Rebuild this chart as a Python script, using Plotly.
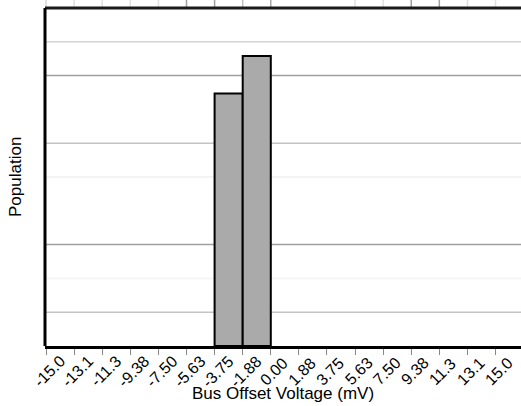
import plotly.graph_objects as go

# Data
bin_edges = [-15.0, -13.125, -11.25, -9.375, -7.5, -5.625, -3.75, -1.875, 0.0,
             1.875, 3.75, 5.625, 7.5, 9.375, 11.25, 13.125, 15.0]
tick_labels = ["-15.0", "-13.1", "-11.3", "-9.38", "-7.50", "-5.63", "-3.75", "-1.88", "0.00",
               "1.88", "3.75", "5.63", "7.50", "9.38", "11.3", "13.1", "15.0"]
bar_left = [-3.75, -1.875]
bar_counts = [7.47, 8.58]
bin_width = 1.875

grid_levels = [1, 2, 3, 5, 6, 8, 9]
grid_colors = ["#c4c4c4", "#f3f3f3", "#a0a0a0", "#f1f1f1", "#c4c4c4", "#a0a0a0", "#d4d4d4"]

top_line_colors = ["#d8d8d8", "#e0e0e0", "#e0e0e0", "#e0e0e0", "#e0e0e0", "#a0a0a0", "#a0a0a0",
                   "#c0c0c0", "#a8a8a8", None, None, "#e0e0e0", "#e0e0e0", "#a0a0a0", "#a0a0a0",
                   "#e0e0e0", "#e0e0e0"]

x_range = [-15.07, 16.7]
y_top = 10.0          # frame top (value units)
y_range = [0, 10.237]  # extends a little above the frame

fig = go.Figure()
fig.add_trace(go.Bar(
    x=[b + bin_width / 2 for b in bar_left],
    y=bar_counts,
    width=bin_width,
    marker=dict(color="#aaaaaa", line=dict(color="black", width=2)),
    showlegend=False,
))

shapes = []
for lvl, col in zip(grid_levels, grid_colors):
    shapes.append(dict(type="line", xref="paper", x0=0, x1=1, yref="y", y0=lvl, y1=lvl,
                       line=dict(color=col, width=1.5), layer="below"))
for xv, col in zip(bin_edges, top_line_colors):
    if col is None:
        continue
    shapes.append(dict(type="line", xref="x", x0=xv, x1=xv, yref="y", y0=y_top, y1=y_range[1],
                       line=dict(color=col, width=1.5)))
# frame: top and left
shapes.append(dict(type="line", xref="paper", x0=0, x1=1, yref="y", y0=y_top, y1=y_top,
                   line=dict(color="#1a1a1a", width=3)))
shapes.append(dict(type="line", xref="paper", x0=0, x1=0, yref="y", y0=0, y1=y_top,
                   line=dict(color="black", width=3)))

annotations = [
    dict(text="Bus Offset Voltage (mV)", xref="paper", yref="paper",
         x=0.5, y=0, yshift=-47, showarrow=False,
         font=dict(size=17), xanchor="center", yanchor="middle"),
    dict(text="Population", xref="paper", yref="paper", textangle=-90,
         x=0, y=0.5, xshift=-30, yshift=-4, showarrow=False,
         font=dict(size=17), xanchor="center", yanchor="middle"),
]
for xv, lab in zip(bin_edges, tick_labels):
    annotations.append(dict(text=lab, xref="x", yref="paper", x=xv, y=0,
                            xshift=3, yshift=-25, textangle=-45, showarrow=False,
                            font=dict(size=16), xanchor="center", yanchor="middle"))

fig.update_layout(
    width=521, height=406,
    margin=dict(l=45, r=0, t=0, b=60),
    paper_bgcolor="white", plot_bgcolor="white",
    font=dict(family="Liberation Sans, Arial, sans-serif", color="black"),
    shapes=shapes,
    annotations=annotations,
    xaxis=dict(
        range=x_range, automargin=False,
        tickvals=bin_edges, showticklabels=False,
        ticks="outside", ticklen=6, tickcolor="#888888", tickwidth=1,
        showgrid=False, zeroline=False,
        showline=True, linecolor="black", linewidth=2.5,
    ),
    yaxis=dict(
        range=y_range, automargin=False,
        showticklabels=False, showgrid=False, zeroline=False,
        showline=False,
    ),
)

fig.write_html("out.html", config={"displayModeBar": False},
               post_script="document.body.style.margin='0px';document.body.style.overflow='hidden';")
